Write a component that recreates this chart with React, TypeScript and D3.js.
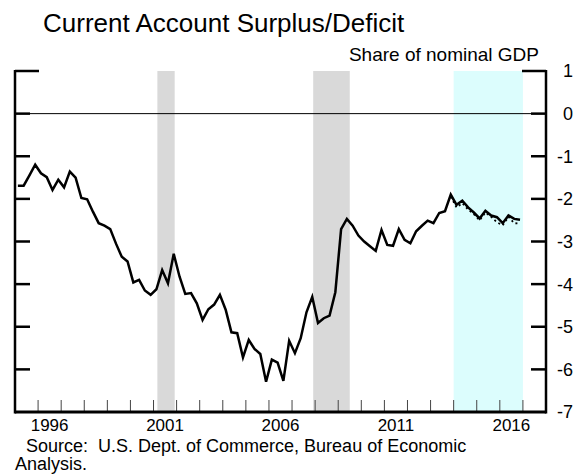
import * as d3 from 'd3';
import { useEffect, useRef } from 'react';

// quarterly values, share of nominal GDP, 1995Q1 .. 2016Q4
const startYear = 1995;
const currentAccount = [
  -1.69, -1.69, -1.45, -1.2,
  -1.4, -1.49, -1.79, -1.55,
  -1.73, -1.36, -1.5, -1.98,
  -2.01, -2.3, -2.57, -2.63,
  -2.71, -3.05, -3.36, -3.47,
  -3.96, -3.9, -4.15, -4.25,
  -4.12, -3.67, -3.98, -3.29,
  -3.82, -4.23, -4.21, -4.45,
  -4.84, -4.59, -4.48, -4.25,
  -4.6, -5.13, -5.15, -5.72,
  -5.31, -5.52, -5.64, -6.29,
  -5.77, -5.84, -6.27, -5.33,
  -5.62, -5.27, -4.66, -4.3,
  -4.91, -4.8, -4.74, -4.19,
  -2.71, -2.47, -2.63, -2.86,
  -3.0, -3.11, -3.22, -2.73,
  -3.08, -3.1, -2.71, -2.96,
  -3.04, -2.76, -2.63, -2.51,
  -2.57, -2.33, -2.29, -1.9,
  -2.14, -2.04, -2.2, -2.32,
  -2.46, -2.28, -2.39, -2.43,
  -2.57, -2.39, -2.47, -2.49,
];

// earlier vintage, 2013Q4 .. 2016Q4 (dotted)
const priorStart = 2013.75;
const priorVintage = [
  -1.95, -2.2, -2.1, -2.25,
  -2.36, -2.5, -2.32, -2.42,
  -2.55, -2.62, -2.42, -2.57,
  -2.58,
];

const recessions: [number, number][] = [
  [2001 + 2 / 12, 2001 + 11 / 12],
  [2007 + 11 / 12, 2009.5],
];
const highlight: [number, number] = [2014, 2017];

const yTicks = [1, 0, -1, -2, -3, -4, -5, -6, -7];
const yearLabels = [1996, 2001, 2006, 2011, 2016];

const W = 577;
const H = 474;
const font = '"Liberation Sans", Arial, sans-serif';

export default function App() {
  const svgRef = useRef<SVGSVGElement>(null);

  useEffect(() => {
    const svg = d3.select(svgRef.current);
    svg.selectAll('*').remove();

    const x = d3.scaleLinear().domain([1995, 2018]).range([15, 546]);
    const y = d3.scaleLinear().domain([1, -7]).range([71, 412]);

    // shaded periods
    svg.selectAll('.rec')
      .data(recessions)
      .enter()
      .append('rect')
      .attr('x', (d) => x(d[0]))
      .attr('width', (d) => x(d[1]) - x(d[0]))
      .attr('y', y(1))
      .attr('height', y(-7) - y(1))
      .attr('fill', '#d9d9d9');

    svg.append('rect')
      .attr('x', x(highlight[0]))
      .attr('width', x(highlight[1]) - x(highlight[0]))
      .attr('y', y(1))
      .attr('height', y(-7) - y(1))
      .attr('fill', '#dcfdfd');

    // zero line
    svg.append('line')
      .attr('x1', x.range()[0]).attr('x2', x.range()[1])
      .attr('y1', y(0)).attr('y2', y(0))
      .attr('stroke', '#000').attr('stroke-width', 1);

    // year ticks along the bottom
    const years = d3.range(1996, 2018);
    svg.selectAll('.xt')
      .data(years)
      .enter()
      .append('line')
      .attr('x1', (d) => x(d)).attr('x2', (d) => x(d))
      .attr('y1', y(-7) - 12).attr('y2', y(-7))
      .attr('stroke', '#444').attr('stroke-width', 1);

    // frame: left, right, bottom
    const [x0, x1] = x.range();
    svg.append('line')
      .attr('x1', x0).attr('x2', x0).attr('y1', y(1) - 1).attr('y2', y(-7) + 1.5)
      .attr('stroke', '#000').attr('stroke-width', 2.5);
    svg.append('line')
      .attr('x1', x1).attr('x2', x1).attr('y1', y(1) - 1).attr('y2', y(-7) + 1.5)
      .attr('stroke', '#000').attr('stroke-width', 2.5);
    svg.append('line')
      .attr('x1', x0).attr('x2', x1).attr('y1', y(-7)).attr('y2', y(-7))
      .attr('stroke', '#000').attr('stroke-width', 3);

    // y ticks on both sides
    const tickLen = (d: number) => (d === 1 ? 24 : 15);
    svg.selectAll('.ytl')
      .data(yTicks.filter((d) => d > -7))
      .enter()
      .append('line')
      .attr('x1', x0).attr('x2', (d) => x0 + tickLen(d))
      .attr('y1', (d) => y(d)).attr('y2', (d) => y(d))
      .attr('stroke', '#000').attr('stroke-width', 2.5);
    svg.selectAll('.ytr')
      .data(yTicks.filter((d) => d > -7))
      .enter()
      .append('line')
      .attr('x1', x1).attr('x2', (d) => x1 - tickLen(d))
      .attr('y1', (d) => y(d)).attr('y2', (d) => y(d))
      .attr('stroke', '#000').attr('stroke-width', 2.5);

    svg.selectAll('.yl')
      .data(yTicks)
      .enter()
      .append('text')
      .attr('x', 573)
      .attr('y', (d) => y(d))
      .attr('dy', '0.36em')
      .attr('text-anchor', 'end')
      .attr('font-family', font)
      .attr('font-size', 18)
      .text((d) => String(d));

    svg.selectAll('.xl')
      .data(yearLabels)
      .enter()
      .append('text')
      .attr('x', (d) => x(d + 0.5))
      .attr('y', 431)
      .attr('text-anchor', 'middle')
      .attr('font-family', font)
      .attr('font-size', 17)
      .text((d) => String(d));

    // series
    const line = d3.line<[number, number]>()
      .x((d) => x(d[0]))
      .y((d) => y(d[1]));

    const prior = priorVintage.map((v, i) => [priorStart + 0.125 + i / 4, v] as [number, number]);
    svg.append('path')
      .attr('d', line(prior))
      .attr('fill', 'none')
      .attr('stroke', '#000')
      .attr('stroke-width', 1.8)
      .attr('stroke-dasharray', '2,3');

    const pts = currentAccount.map((v, i) => [startYear + 0.125 + i / 4, v] as [number, number]);
    svg.append('path')
      .attr('d', line(pts))
      .attr('fill', 'none')
      .attr('stroke', '#000')
      .attr('stroke-width', 2.5)
      .attr('stroke-linejoin', 'miter');

    // titles and notes
    svg.append('text')
      .attr('x', 43).attr('y', 32)
      .attr('font-family', font).attr('font-size', 26)
      .text('Current Account Surplus/Deficit');
    svg.append('text')
      .attr('x', 539).attr('y', 61)
      .attr('text-anchor', 'end')
      .attr('font-family', font).attr('font-size', 19)
      .text('Share of nominal GDP');
    svg.append('text')
      .attr('x', 26).attr('y', 452)
      .attr('font-family', font).attr('font-size', 18)
      .attr('xml:space', 'preserve')
      .style('white-space', 'pre')
      .text('Source:  U.S. Dept. of Commerce, Bureau of Economic');
    svg.append('text')
      .attr('x', 15).attr('y', 470)
      .attr('font-family', font).attr('font-size', 18)
      .text('Analysis.');
  }, []);

  return (
    <svg
      ref={svgRef}
      width={W}
      height={H}
      style={{ position: 'absolute', left: 0, top: 0, background: '#fff' }}
    />
  );
}
